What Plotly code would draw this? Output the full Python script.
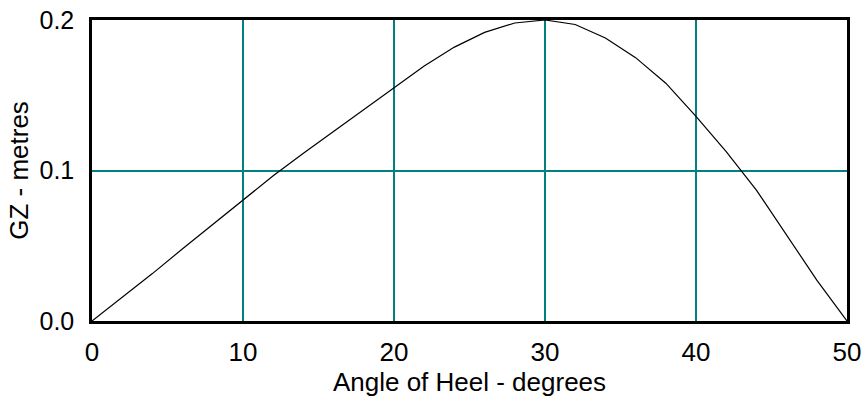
import plotly.graph_objects as go

# Righting lever (GZ) curve: heel angle in degrees vs GZ in metres
heel_deg = [0, 2, 4, 6, 8, 10, 12, 14, 16, 18, 20, 22, 24, 26, 28, 30,
            32, 34, 36, 38, 40, 42, 44, 46, 48, 50]
gz_m = [0.0, 0.0155, 0.0315, 0.048, 0.064, 0.0805, 0.0965, 0.1115, 0.126,
        0.1405, 0.1555, 0.1695, 0.1820, 0.1918, 0.198, 0.2, 0.197, 0.188,
        0.175, 0.158, 0.136, 0.1125, 0.087, 0.0575, 0.0272, 0.0]

x_ticks = [0, 10, 20, 30, 40, 50]
y_ticks = [0.0, 0.1, 0.2]
y_tick_text = ["0.0", "0.1", "0.2"]

FONT = "Liberation Sans, Arial, sans-serif"
GRID = "#008080"

fig = go.Figure(
    go.Scatter(x=heel_deg, y=gz_m, mode="lines",
               line=dict(color="black", width=1.2), hoverinfo="x+y")
)

fig.update_layout(
    width=868, height=406,
    margin=dict(l=92, r=21, t=20, b=85),
    paper_bgcolor="white", plot_bgcolor="white",
    showlegend=False,
    font=dict(family=FONT, size=26, color="black"),
)

fig.update_xaxes(
    range=[0, 50], tickvals=x_ticks, ticks="", ticklabelstandoff=6,
    automargin=False,
    showgrid=True, gridcolor=GRID, gridwidth=2,
    showline=True, linecolor="black", linewidth=2.5, mirror=True,
    zeroline=False,
    title=dict(text="Angle of Heel - degrees", standoff=2,
               font=dict(size=26)),
    tickfont=dict(size=26),
)

fig.update_yaxes(
    range=[0, 0.2], tickvals=y_ticks, ticktext=y_tick_text, ticks="",
    ticklabelstandoff=10, automargin=False,
    showgrid=True, gridcolor=GRID, gridwidth=2,
    showline=True, linecolor="black", linewidth=2.5, mirror=True,
    zeroline=False,
    title=dict(text="GZ - metres", standoff=4, font=dict(size=26)),
    tickfont=dict(size=25),
)

fig.write_html("out.html")
